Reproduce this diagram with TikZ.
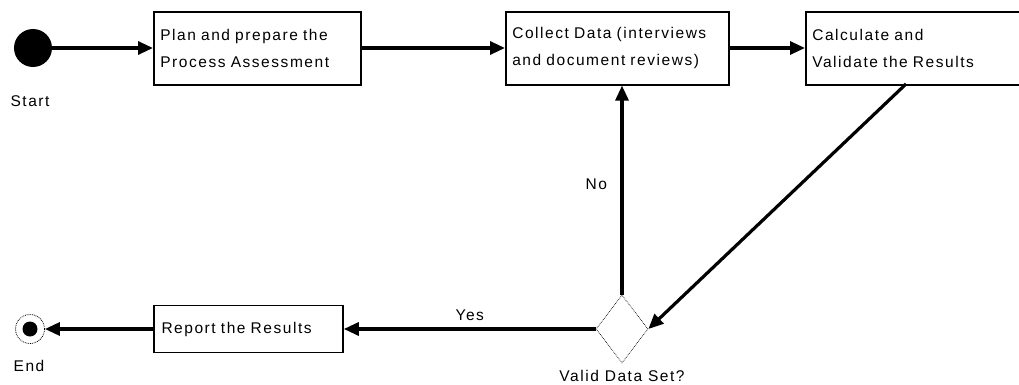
\documentclass[tikz,border=0pt]{standalone}
\usepackage{fontspec}
\setmainfont{Liberation Sans}[LetterSpace=10]
\usetikzlibrary{arrows.meta,shapes.geometric}

\begin{document}
\begin{tikzpicture}[x=1pt,y=-1pt,
  box/.style={draw=black,line width=1.6pt,anchor=north west,align=left,
    inner sep=0pt,font=\fontsize{15.5}{27}\selectfont},
  flow/.style={line width=3.2pt,-{Triangle[length=15pt,width=13pt]}},
  lbl/.style={font=\fontsize{15.5}{17}\selectfont}]
\useasboundingbox (0,0) rectangle (1019,385);

\node[circle,fill=black,minimum size=38pt,inner sep=0pt] (start) at (33,48) {};
\node[lbl] (startlbl) at (30,101) {Start};

\node[box,minimum width=207pt,minimum height=73pt,text width=200pt] (plan) at (153,11)
  {\hspace*{3pt}Plan and prepare the\\\hspace*{3pt}Process Assessment};
\node[box,minimum width=223pt,minimum height=73pt,text width=216pt] (collect) at (505,11)
  {\hspace*{3pt}Collect Data (interviews\\\hspace*{3pt}and document reviews)};
\node[box,minimum width=220pt,minimum height=73pt,text width=213pt] (calc) at (805,11)
  {\hspace*{3pt}Calculate and\\\hspace*{3pt}Validate the Results};

\node[diamond,draw=black,densely dotted,line width=0.7pt,inner sep=0pt,
  minimum width=52pt,minimum height=68pt] (valid) at (622,329) {};
\node[lbl] (validlbl) at (622,376) {Valid Data Set?};

\node[box,anchor=center,minimum width=189pt,minimum height=47pt,text width=180pt] (report) at (248.5,329)
  {\hspace*{3pt}Report the Results};

\node[circle,draw=black,densely dotted,line width=0.8pt,minimum size=29pt,inner sep=0pt] (end) at (30,329) {};
\node[circle,fill=black,minimum size=15pt,inner sep=0pt] (endin) at (end) {};
\node[lbl] (endlbl) at (29,366) {End};

\coordinate (calcout) at (906,84);

\draw[flow] (start) -- (plan.west |- start);
\draw[flow] (plan.east |- start) -- (collect.west |- start);
\draw[flow] (collect.east |- start) -- (calc.west |- start);
\draw[flow] (calcout) -- (valid.east);
\draw[flow] (valid.north) -- (valid.north |- collect.south) node[lbl,pos=0.53,left=10pt] {No};
\draw[flow] (valid.west) -- (report.east) node[lbl,pos=0.5,above=3pt] {Yes};
\draw[flow] (report.west) -- (end.east);
\end{tikzpicture}
\end{document}
